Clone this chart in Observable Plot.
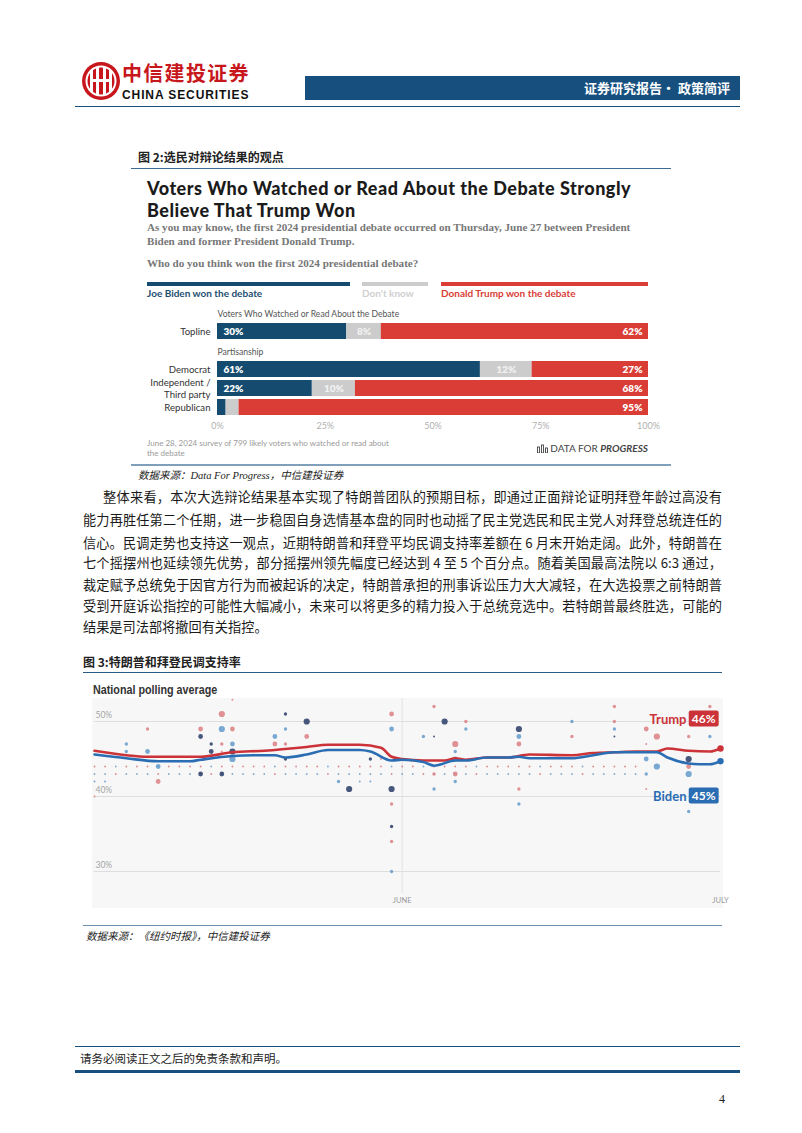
<!DOCTYPE html>
<html><head><meta charset="utf-8">
<script src="https://cdn.jsdelivr.net/npm/d3@7"></script>
<script src="https://cdn.jsdelivr.net/npm/@observablehq/plot@0.6"></script>
<style>
body{margin:0;width:802px;height:1133px;position:relative;background:#fff;font-family:"Noto Sans CJK SC",sans-serif;overflow:hidden;color:#222}
.abs{position:absolute;white-space:nowrap}
.hl{position:absolute;height:1px}
.para{position:absolute;left:83px;width:639px;font-size:13.2px;line-height:18px;white-space:nowrap;text-align:justify;text-align-last:justify;color:#1a1a1a}
.plotbox{position:absolute}
</style></head><body>
<script>
// ---------- Figure 2 data (Data For Progress) ----------
const debateRows = ["Topline", "Democrat", "Independent /\nThird party", "Republican"];
const debateResponses = ["Joe Biden won the debate", "Don't know", "Donald Trump won the debate"];
const bidenWon = [30, 61, 22, 2];
const dontKnow = [8, 12, 10, 3];
const trumpWon = [62, 27, 68, 95];
const debateTicks = [0, 25, 50, 75, 100];
const debateGroupLabels = ["Voters Who Watched or Read About the Debate", "Partisanship"];

// ---------- Figure 3 data (NYT national polling average) ----------
const trumpAvg = [["2024-05-03",46.1],["2024-05-06",45.5],["2024-05-08",45.3],["2024-05-11",45.3],["2024-05-13",45.3],["2024-05-16",45.9],["2024-05-19",46.1],["2024-05-23",46.6],["2024-05-25",46.9],["2024-05-28",46.9],["2024-05-30",46.5],["2024-05-31",45.3],["2024-06-01",45.0],["2024-06-03",44.8],["2024-06-05",44.8],["2024-06-06",45.1],["2024-06-07",44.9],["2024-06-09",45.2],["2024-06-11",45.2],["2024-06-13",45.6],["2024-06-17",45.5],["2024-06-19",45.8],["2024-06-21",45.9],["2024-06-23",46.0],["2024-06-25",46.0],["2024-06-26",46.4],["2024-06-28",46.1],["2024-06-30",46.0],["2024-07-01",46.4]];
const bidenAvg = [["2024-05-03",45.6],["2024-05-06",45.1],["2024-05-09",44.7],["2024-05-12",44.7],["2024-05-13",44.9],["2024-05-16",45.4],["2024-05-18",45.5],["2024-05-20",45.5],["2024-05-21",45.2],["2024-05-23",45.6],["2024-05-25",46.2],["2024-05-28",46.2],["2024-05-29",46.0],["2024-05-31",44.8],["2024-06-01",44.9],["2024-06-03",44.6],["2024-06-04",44.1],["2024-06-06",44.8],["2024-06-07",44.8],["2024-06-09",45.2],["2024-06-11",45.2],["2024-06-12",45.3],["2024-06-13",45.1],["2024-06-17",45.1],["2024-06-19",45.5],["2024-06-21",45.9],["2024-06-23",45.9],["2024-06-25",45.9],["2024-06-26",45.2],["2024-06-28",44.4],["2024-06-29",44.3],["2024-06-30",44.3],["2024-07-01",44.7]];
// individual polls: [date, pct, weight]
const trumpPolls = [["2024-05-16",52.9,1],["2024-05-15",51,4],["2024-05-16",49,3],["2024-05-13",49,3],["2024-05-08",49,2],["2024-05-15",47,2],["2024-05-15",46,1],["2024-05-09",42,3],["2024-05-03",40,1],["2024-05-20",47,3],["2024-05-21",47,2],["2024-05-23",48,3],["2024-05-30",45,1],["2024-05-31",51,3],["2024-05-31",39,2],["2024-05-31",34,2],["2024-06-04",52,2],["2024-06-07",50,2],["2024-06-06",47,4],["2024-06-04",43,2],["2024-06-06",43,3],["2024-06-12",47,3],["2024-06-12",41,2],["2024-06-17",48,2],["2024-06-21",52,2],["2024-06-21",50,2],["2024-06-24",49,3],["2024-06-25",48,4],["2024-06-24",47,1],["2024-06-24",41,1],["2024-06-28",48,2],["2024-06-28",44,3],["2024-06-30",52,2]];
const bidenPolls = [["2024-05-15",49,4],["2024-05-06",47,2],["2024-05-06",46,2],["2024-05-08",46,3],["2024-05-16",47,3],["2024-05-16",45,4],["2024-05-09",44,3],["2024-05-03",42,1],["2024-05-04",42,1],["2024-05-21",49,2],["2024-05-20",48,3],["2024-05-31",49,3],["2024-05-31",30,2],["2024-06-03",48,2],["2024-06-07",49,2],["2024-06-06",46,2],["2024-06-06",45,3],["2024-05-26",42,2],["2024-05-28",42,1],["2024-05-29",42,1],["2024-06-04",41,2],["2024-06-06",42,2],["2024-06-12",48,3],["2024-06-12",39,2],["2024-06-17",50,2],["2024-06-21",49,2],["2024-06-24",45,3],["2024-06-25",44,4],["2024-06-24",43,2],["2024-06-30",48,2],["2024-06-28",43,4],["2024-06-28",38,2]];
const tiedPolls = [["2024-05-13",48,3],["2024-05-14",47,2],["2024-05-14",46,3],["2024-05-16",46,4],["2024-05-13",43,3],["2024-05-15",43,3],["2024-05-21",51,2],["2024-05-23",50,4],["2024-05-21",45,2],["2024-06-05",50,4],["2024-06-04",48,1],["2024-05-29",45,2],["2024-05-27",41,4],["2024-05-31",41,4],["2024-05-31",36,2],["2024-06-12",49,4],["2024-06-21",48,1],["2024-06-28",45,4]];
// daily tracking poll, starting 2024-05-03
const trackingStart = "2024-05-03";
const trackingTrump = [44,44,43,44,44,44,43,44,44,44,44,43,44,44,44,44,44,43,44,44,44,44,43,44,44,44,44,44,43,44,44,43,44,44,44,44,43,44,44,44,44,44,43,44,44,44,43,44,44,44,44,44];
const trackingBiden = [43,43,44,43,43,43,44,43,43,43,43,44,43,43,43,43,43,44,43,43,43,43,44,43,43,43,43,43,44,43,43,44,43,43,43,43,44,43,43,43,43,43,44,43,43,43,44,43,43,43,43,43];
const pollTicks = [30, 40, 50];
const monthTicks = [["2024-06-01","JUNE","middle"],["2024-07-01","JULY","end"]];
const finalLabels = [["Trump", 46], ["Biden", 45]];
</script>

<!-- Header -->
<svg class="abs" style="left:81px;top:61px" width="40" height="40" viewBox="0 0 40 40">
  <circle cx="20" cy="20" r="19" fill="#c8161d"/>
  <circle cx="20" cy="20" r="14.5" fill="none" stroke="#fff" stroke-width="2"/>
  <rect x="9" y="9" width="3" height="22" fill="#fff"/><rect x="28" y="9" width="3" height="22" fill="#fff"/>
  <rect x="15" y="6" width="3" height="28" fill="#fff"/><rect x="22" y="6" width="3" height="28" fill="#fff"/>
  <rect x="9" y="18" width="22" height="3" fill="#fff"/>
</svg>
<div class="abs" style="left:122px;top:61px;font-size:20px;letter-spacing:1.3px;font-weight:700;color:#c8161d;line-height:23px">中信建投证券</div>
<div class="abs" style="left:122px;top:89px;font-family:'Liberation Sans',sans-serif;font-size:12px;letter-spacing:0.9px;font-weight:700;color:#111;line-height:12px">CHINA SECURITIES</div>
<div class="abs" style="left:305px;top:76px;width:435px;height:24px;background:#17507f"></div>
<div class="abs" style="left:305px;top:76px;width:425px;height:24px;line-height:24px;text-align:right;color:#fff;font-size:13px;font-weight:700">证券研究报告• 政策简评</div>
<div class="hl" style="left:75px;top:106px;width:665px;background:#17507f"></div>

<!-- Figure 2 -->
<div class="abs" style="left:138px;top:148px;font-size:12px;font-weight:700;line-height:18px">图 2:选民对辩论结果的观点</div>
<div class="hl" style="left:131px;top:168px;width:540px;background:#3d6a93"></div>
<div class="abs" style="left:147px;top:177px;font-family:Lato,sans-serif;font-weight:900;font-size:18px;letter-spacing:0.5px;line-height:22px;color:#1b1b1b">Voters Who Watched or Read About the Debate Strongly<br>Believe That Trump Won</div>
<div class="abs" style="left:147px;top:221px;font-family:'Liberation Serif',serif;font-weight:700;font-size:11.1px;line-height:13.5px;color:#777">As you may know, the first 2024 presidential debate occurred on Thursday, June 27 between President<br>Biden and former President Donald Trump.</div>
<div class="abs" style="left:147px;top:257px;font-family:'Liberation Serif',serif;font-weight:700;font-size:11.1px;line-height:13.5px;color:#777">Who do you think won the first 2024 presidential debate?</div>
<div id="legend2"></div>
<div id="fig2" class="plotbox" style="left:130px;top:300px"></div>
<div class="abs" style="left:147px;top:438px;font-family:Lato,sans-serif;font-size:8px;line-height:10px;color:#9a9a9a">June 28, 2024 survey of 799 likely voters who watched or read about<br>the debate</div>
<div class="abs" style="left:530px;top:441px;width:118px;text-align:right;font-family:Lato,sans-serif;font-size:10px;line-height:14px;color:#444">
<svg width="11" height="9" style="vertical-align:-1px"><rect x="0.5" y="3" width="2" height="6" fill="none" stroke="#444" stroke-width="0.9"/><rect x="4.5" y="1" width="2" height="8" fill="none" stroke="#444" stroke-width="0.9"/><rect x="8.5" y="4" width="2" height="5" fill="none" stroke="#444" stroke-width="0.9"/></svg> DATA FOR <b><i>PROGRESS</i></b></div>
<div class="hl" style="left:131px;top:464px;width:540px;height:2px;background:#7f9fba"></div>
<div class="abs" style="left:138px;top:467px;font-size:10.5px;font-style:italic;line-height:18px;font-family:'Liberation Serif','Noto Sans CJK SC',serif">数据来源：Data For Progress，中信建投证券</div>

<!-- Paragraph -->
<div class="para" style="top:488px;text-indent:20px">整体来看，本次大选辩论结果基本实现了特朗普团队的预期目标，即通过正面辩论证明拜登年龄过高没有</div>
<div class="para" style="top:511px">能力再胜任第二个任期，进一步稳固自身选情基本盘的同时也动摇了民主党选民和民主党人对拜登总统连任的</div>
<div class="para" style="top:534px">信心。民调走势也支持这一观点，近期特朗普和拜登平均民调支持率差额在 6 月末开始走阔。此外，特朗普在</div>
<div class="para" style="top:554px">七个摇摆州也延续领先优势，部分摇摆州领先幅度已经达到 4 至 5 个百分点。随着美国最高法院以 6:3 通过，</div>
<div class="para" style="top:576px">裁定赋予总统免于因官方行为而被起诉的决定，特朗普承担的刑事诉讼压力大大减轻，在大选投票之前特朗普</div>
<div class="para" style="top:597px">受到开庭诉讼指控的可能性大幅减小，未来可以将更多的精力投入于总统竞选中。若特朗普最终胜选，可能的</div>
<div class="para" style="top:618px;text-align-last:left">结果是司法部将撤回有关指控。</div>

<!-- Figure 3 -->
<div class="abs" style="left:83px;top:653px;font-size:12px;font-weight:700;line-height:18px">图 3:特朗普和拜登民调支持率</div>
<div class="hl" style="left:83px;top:672px;width:639px;background:#2b5a85"></div>
<div class="abs" style="left:93px;top:682px;font-family:'Liberation Sans',sans-serif;font-weight:700;font-size:12.5px;line-height:16px;color:#333;transform:scaleX(0.86);transform-origin:left center">National polling average</div>
<div id="fig3" class="plotbox" style="left:92px;top:698px"></div>
<div class="hl" style="left:83px;top:925px;width:639px;background:#6f8fae"></div>
<div class="abs" style="left:86px;top:927px;font-size:10.5px;font-style:italic;line-height:18px">数据来源：《纽约时报》，中信建投证券</div>

<!-- Footer -->
<div class="hl" style="left:75px;top:1046px;width:665px;background:#17507f"></div>
<div class="abs" style="left:80px;top:1049px;font-size:11.5px;line-height:18px">请务必阅读正文之后的免责条款和声明。</div>
<div class="hl" style="left:75px;top:1070px;width:665px;height:3px;background:#17507f"></div>
<div class="abs" style="left:719px;top:1090px;font-family:'Liberation Serif',serif;font-size:12px;line-height:18px">4</div>

<script>
// ---------- Figure 2 ----------
const debateColors = ["#144b6f", "#cccccc", "#d93d36"];
const legendX = [[147,350],[362,428],[441,648]];
const legendColorsText = ["#1d4f72", "#cfcfcf", "#d93d36"];
const leg = document.getElementById("legend2");
debateResponses.forEach((r, i) => {
  const bar = document.createElement("div");
  bar.className = "abs";
  bar.style.cssText = `left:${legendX[i][0]}px;top:282px;width:${legendX[i][1]-legendX[i][0]}px;height:4px;background:${debateColors[i]}`;
  leg.appendChild(bar);
  const lab = document.createElement("div");
  lab.className = "abs";
  lab.style.cssText = `left:${legendX[i][0]}px;top:287px;font-family:Lato,sans-serif;font-weight:700;font-size:10px;line-height:12px;color:${legendColorsText[i]}`;
  lab.textContent = r;
  leg.appendChild(lab);
});

const debateData = debateRows.flatMap((row, i) => [
  {row, response: debateResponses[0], value: bidenWon[i]},
  {row, response: debateResponses[1], value: dontKnow[i]},
  {row, response: debateResponses[2], value: trumpWon[i]}
]);
const labelsBiden = debateRows.map((row, i) => ({row, x: 0, v: bidenWon[i]})).filter(d => d.v >= 5);
const labelsDK = debateRows.map((row, i) => ({row, x: bidenWon[i] + dontKnow[i] / 2, v: dontKnow[i]})).filter(d => d.v >= 5);
const labelsTrump = debateRows.map((row, i) => ({row, x: 100, v: trumpWon[i]})).filter(d => d.v >= 5);
const groupLabels = [{row: debateRows[0], t: debateGroupLabels[0]}, {row: debateRows[1], t: debateGroupLabels[1]}];

const fig2 = Plot.plot({
  width: 542, height: 140,
  marginLeft: 87, marginRight: 24, marginTop: 22.7, marginBottom: 25.7,
  style: {fontFamily: "Lato, sans-serif", overflow: "visible", background: "transparent"},
  x: {domain: [0, 100]},
  y: {domain: [debateRows[0], " ", ...debateRows.slice(1)], paddingInner: 0.18, paddingOuter: 0, axis: null},
  color: {domain: debateResponses, range: debateColors},
  marks: [
    Plot.barX(debateData, {x: "value", y: "row", fill: "response"}),
    Plot.axisX({ticks: debateTicks, tickFormat: d => d + "%", tickSize: 0, tickPadding: 8, fontSize: 9, fill: "#b0b0b0", color: "#b0b0b0"}),
    Plot.text(debateRows, {x: 0, y: d => d, text: d => d, textAnchor: "end", dx: -7, fontSize: 9.6, fill: "#333", lineHeight: 1.18}),
    Plot.text(groupLabels, {x: 0, y: "row", text: "t", textAnchor: "start", dy: -17.5, fontSize: 8.6, fill: "#555"}),
    Plot.text(labelsBiden, {x: "x", y: "row", text: d => d.v + "%", textAnchor: "start", dx: 6, fill: "#fff", fontWeight: 800, fontSize: 10}),
    Plot.text(labelsDK, {x: "x", y: "row", text: d => d.v + "%", fill: "#f1f1f1", fontWeight: 800, fontSize: 10}),
    Plot.text(labelsTrump, {x: "x", y: "row", text: d => d.v + "%", textAnchor: "end", dx: -6, fill: "#fff", fontWeight: 800, fontSize: 10})
  ]
});
document.getElementById("fig2").appendChild(fig2);

// ---------- Figure 3 ----------
const parse = d3.utcParse("%Y-%m-%d");
const toPts = arr => arr.map(([d, v]) => ({date: parse(d), value: v}));
const toPolls = arr => arr.map(([d, v, w]) => ({date: parse(d), value: v, w}));
const tStart = parse(trackingStart);
const trackT = trackingTrump.map((v, i) => ({date: d3.utcDay.offset(tStart, i), value: v}));
const trackB = trackingBiden.map((v, i) => ({date: d3.utcDay.offset(tStart, i), value: v}));
const tLine = toPts(trumpAvg), bLine = toPts(bidenAvg);
const TRUMP = "#cb3339", BIDEN = "#2a6db3";
const months = monthTicks.map(([d, t, a]) => ({date: parse(d), t, a}));

const fig3 = Plot.plot({
  width: 631, height: 210,
  marginLeft: 2, marginRight: 3, marginTop: 23, marginBottom: 37,
  style: {background: "#f7f7f7", fontFamily: "Lato, sans-serif", overflow: "visible"},
  x: {type: "utc", domain: [parse("2024-05-03"), parse("2024-07-01")], axis: null},
  y: {domain: [30, 50], axis: null},
  r: {type: "linear", domain: [1, 4], range: [0.95, 3.1]},
  marks: [
    Plot.ruleY(pollTicks, {stroke: "#dedede", strokeWidth: 1}),
    Plot.text(pollTicks, {y: d => d, frameAnchor: "left", text: d => d + "%", textAnchor: "start", dx: 1, dy: -6, fontSize: 8.5, fill: "#a5a5a5"}),
    Plot.ruleX(months.slice(0, 1), {x: "date", stroke: "#e2e2e2", insetTop: -23, insetBottom: -22}),
    Plot.text(months, {x: "date", frameAnchor: "bottom", dy: 31, text: "t", textAnchor: d => d.a, fontSize: 7.5, fill: "#9a9a9a"}),
    Plot.dot(trackT, {x: "date", y: "value", r: 0.9, fill: "#d98689", fillOpacity: 0.95}),
    Plot.dot(trackB, {x: "date", y: "value", r: 0.9, fill: "#7aa6cd", fillOpacity: 0.95}),
    Plot.dot(toPolls(trumpPolls), {x: "date", y: "value", r: "w", fill: "#dc8588", fillOpacity: 0.9}),
    Plot.dot(toPolls(bidenPolls), {x: "date", y: "value", r: "w", fill: "#6a9fcd", fillOpacity: 0.9}),
    Plot.dot(toPolls(tiedPolls), {x: "date", y: "value", r: "w", fill: "#34466f", fillOpacity: 0.9}),
    Plot.line(tLine, {x: "date", y: "value", stroke: TRUMP, strokeWidth: 2.6, curve: "monotone-x"}),
    Plot.line(bLine, {x: "date", y: "value", stroke: BIDEN, strokeWidth: 2.6, curve: "monotone-x"}),
    Plot.dot(tLine.slice(-1), {x: "date", y: "value", r: 3.2, fill: TRUMP}),
    Plot.dot(bLine.slice(-1), {x: "date", y: "value", r: 3.2, fill: BIDEN}),
    Plot.text(finalLabels.slice(0, 1), {frameAnchor: "top-right", text: d => d[0], textAnchor: "end", dx: -34, dy: -7, fill: TRUMP, fontWeight: 700, fontSize: 13}),
    Plot.text(finalLabels.slice(1, 2), {frameAnchor: "top-right", text: d => d[0], textAnchor: "end", dx: -34, dy: 70, fill: BIDEN, fontWeight: 700, fontSize: 13}),
    Plot.text(finalLabels.slice(0, 1), {ariaDescription: "badge-trump", frameAnchor: "top-right", text: d => d[1] + "%", textAnchor: "end", dx: -5, dy: -7, fill: "#fff", fontWeight: 700, fontSize: 12}),
    Plot.text(finalLabels.slice(1, 2), {ariaDescription: "badge-biden", frameAnchor: "top-right", text: d => d[1] + "%", textAnchor: "end", dx: -5, dy: 70, fill: "#fff", fontWeight: 700, fontSize: 12})
  ]
});
document.getElementById("fig3").appendChild(fig3);

function addBadges(svg, label, color) {
  svg.querySelectorAll(`[aria-description="${label}"] text`).forEach(t => {
    const b = t.getBBox();
    const r = document.createElementNS("http://www.w3.org/2000/svg", "rect");
    r.setAttribute("x", b.x - 3); r.setAttribute("y", b.y - 0.5);
    r.setAttribute("width", b.width + 6); r.setAttribute("height", b.height + 1);
    r.setAttribute("rx", 2); r.setAttribute("fill", color);
    const tr = t.getAttribute("transform"); if (tr) r.setAttribute("transform", tr);
    t.parentNode.insertBefore(r, t);
  });
}
addBadges(fig3, "badge-trump", TRUMP);
addBadges(fig3, "badge-biden", BIDEN);
</script>
</body></html>
